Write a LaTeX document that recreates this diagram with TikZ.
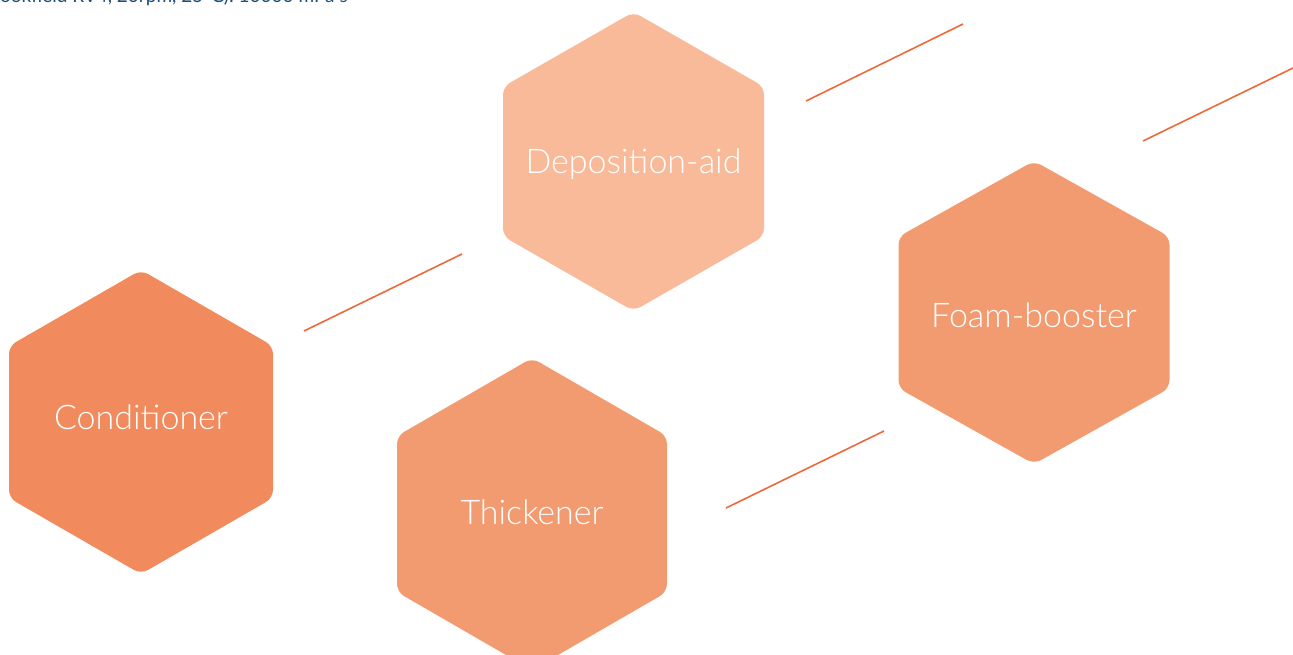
\documentclass[tikz,border=0pt]{standalone}
\usepackage{fontspec}
\setmainfont{Lato}
\newfontfamily\hexfont{Lato Light}
\definecolor{hexlight}{HTML}{F8BA98}
\definecolor{hexdeep}{HTML}{F18B5E}
\definecolor{hexmid}{HTML}{F39B70}
\definecolor{rulecol}{HTML}{EC6A3A}
\definecolor{headcol}{HTML}{1F4E79}

\begin{document}
\begin{tikzpicture}
[x=1pt,y=-1pt,%
  hexlabel/.style={text=white,inner sep=0pt,anchor=base,font=\hexfont\fontsize{34}{34}\selectfont},%
  rule/.style={rulecol,line width=1.6pt},%
  head/.style={text=headcol,inner sep=0pt,anchor=base west,font=\fontsize{19}{19}\selectfont}]
\useasboundingbox (0,0) rectangle (1293,654);
\begin{scope}
\clip (0,0) rectangle (1293,654);
\node[head] (viscosity) at (0,2.5) {ookfield RV4, 20rpm, 25°C): 10000 mPa·s};
% hexagons: centre x / centre y / half width / half height / colour / name / baseline y / text
\foreach \cx/\cy/\w/\h/\col/\name/\ty/\txt in
  {141/422/132/152/hexdeep/cond/429/Conditioner,
   633.5/161.5/130.5/149.5/hexlight/depo/173/Deposition-aid,
   532/514/135/156/hexmid/thick/524/Thickener,
   1034/312.5/135.5/151.5/hexmid/foam/327/Foam-booster}
{
  \fill[\col,rounded corners=8pt] (\cx,\cy-\h) -- ++(\w,\h/2) -- ++(0,\h)
    -- ++(-\w,\h/2) -- ++(-\w,-\h/2) -- ++(0,-\h) -- cycle;
  \node[hexlabel] (\name) at (\cx,\ty) {\txt};
}
\end{scope}
% loose strokes
\coordinate (r1a) at (304,331);  \coordinate (r1b) at (462,254);
\coordinate (r2a) at (806,101);  \coordinate (r2b) at (963,24);
\coordinate (r3a) at (1143,141); \coordinate (r3b) at (1293,68);
\coordinate (r4a) at (726,508);  \coordinate (r4b) at (884,431);
\draw[rule] (r1a) -- (r1b);
\draw[rule] (r2a) -- (r2b);
\draw[rule] (r3a) -- (r3b);
\draw[rule] (r4a) -- (r4b);
\end{tikzpicture}
\end{document}
